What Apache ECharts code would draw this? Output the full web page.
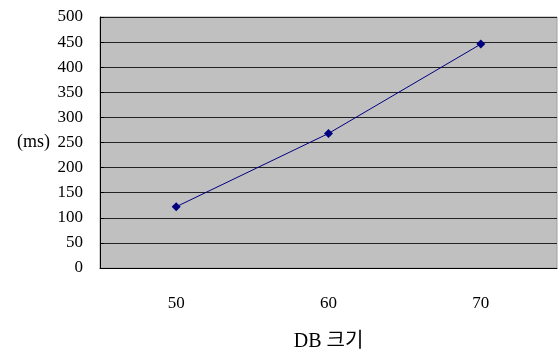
<!DOCTYPE html>
<html><head><meta charset="utf-8">
<script src="https://cdn.jsdelivr.net/npm/echarts@6/dist/echarts.min.js"></script>
<style>html,body{margin:0;padding:0;background:#fff}#c{width:559px;height:355px}</style>
</head><body><div id="c"></div>
<script>
const categories = ['50', '60', '70'];
const values = [122, 268, 446];
const yTicks = {min: 0, max: 500, interval: 50};
const xName = 'DB 크기';
const yName = '(ms)';

const font = '"Liberation Serif", "Noto Sans CJK KR", serif';
const chart = echarts.init(document.getElementById('c'), null, {renderer: 'canvas'});
chart.setOption({
  animation: false,
  grid: {left: 100, right: 2, top: 17, bottom: 87, outerBoundsMode: 'none', containLabel: false,
         show: true, backgroundColor: '#c0c0c0', borderColor: '#a0a0a0', borderWidth: 1},
  xAxis: {
    type: 'category', data: categories, boundaryGap: true,
    name: xName, nameLocation: 'middle', nameGap: 64,
    nameTextStyle: {fontFamily: font, fontSize: 20, color: '#000'},
    axisLine: {lineStyle: {color: '#000', width: 1}},
    axisTick: {inside: true, length: 5, lineStyle: {color: '#000'}},
    axisLabel: {fontFamily: font, fontSize: 17, color: '#000', margin: 27},
    splitLine: {show: false}
  },
  yAxis: {
    type: 'value', min: yTicks.min, max: yTicks.max, interval: yTicks.interval,
    name: yName, nameLocation: 'middle', nameRotate: 0, nameGap: 50,
    nameTextStyle: {fontFamily: font, fontSize: 18, color: '#000'},
    axisLine: {show: true, lineStyle: {color: '#000', width: 1}},
    axisTick: {show: true, inside: true, length: 4, lineStyle: {color: '#000'}},
    axisLabel: {fontFamily: font, fontSize: 17, color: '#000', margin: 17},
    splitLine: {show: true, lineStyle: {color: '#222', width: 1}}
  },
  series: [{
    type: 'line', data: values,
    symbol: 'diamond', symbolSize: 9,
    lineStyle: {color: '#000080', width: 1},
    itemStyle: {color: '#000080'}
  }]
});
</script></body></html>
